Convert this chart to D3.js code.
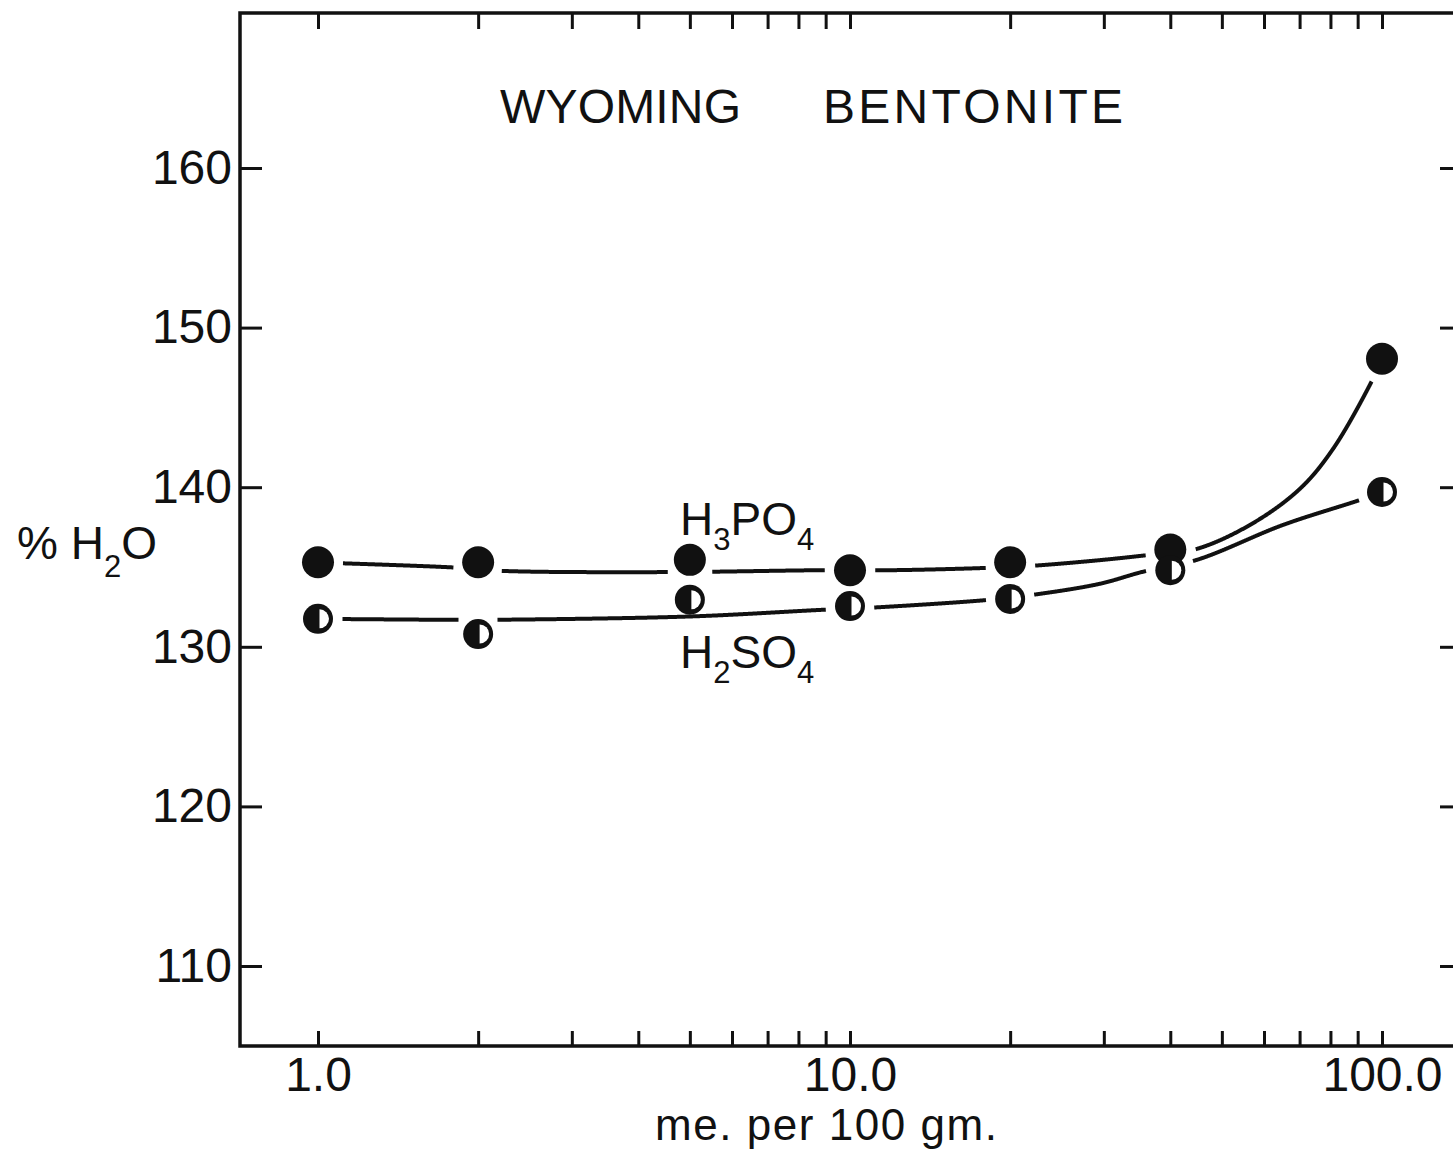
<!DOCTYPE html>
<html><head><meta charset="utf-8">
<script src="https://cdn.jsdelivr.net/npm/d3@7"></script>
<style>
body{margin:0;background:#fff}
svg{display:block;background:#fff}
text{font-family:"Liberation Sans",Arial,sans-serif;fill:#111}
</style>
</head><body>
<svg id="c" width="1453" height="1149"></svg>
<script>
// ---- data ----
const titleWords = ["WYOMING", "BENTONITE"];
const xTickValues = [1,2,3,4,5,6,7,8,9,10,20,30,40,50,60,70,80,90,100];
const xTickLabels = {1:"1.0", 10:"10.0", 100:"100.0"};
const yTickValues = [110,120,130,140,150,160];
const conc = [1,2,5,10,20,40,100];
const h3po4 = [135.3,135.3,135.45,134.8,135.3,136.1,148.05];
const h2so4 = [131.75,130.8,132.95,132.55,133.0,134.8,139.7];
// hand-drawn smoothing curves
const h3po4CurveX = [1.0,1.8,2.2,4.5,8.9,12,18.3,22.1,29.5,36.6,44.5,56.5,70.1,80.9,96.2,100];
const h3po4CurveY = [135.28,134.97,134.76,134.68,134.8,134.8,134.95,135.08,135.43,135.76,136.1,137.64,139.9,142.4,146.8,148.05];
const h2so4CurveX = [1.0,1.8,2.1,5.0,8.9,10.8,18.2,22.1,29.5,35.5,44.9,65.2,90.9,100];
const h2so4CurveY = [131.75,131.69,131.69,131.9,132.32,132.44,132.94,133.26,133.95,134.7,135.45,137.64,139.2,139.7];
const seriesNames = ["H3PO4","H2SO4"];

// ---- layout ----
const svg = d3.select("#c");
const ink = "#111";
const L = 240, R = 1462, T = 13, B = 1046;
const x = d3.scaleLog().domain([1,100]).range([318,1382]);
const y = d3.scaleLinear().domain([110,160]).range([966,168]);

// frame
svg.append("path")
  .attr("d", `M${R+10},${T} H${L} V${B} H${R+10}`)
  .attr("fill","none").attr("stroke",ink).attr("stroke-width",3.5);

function styleAxis(g, fs){
  g.select(".domain").remove();
  g.selectAll(".tick line").attr("stroke",ink).attr("stroke-width",3);
  g.selectAll(".tick text").attr("font-size",fs).attr("fill",ink);
}
// bottom axis
const gb = svg.append("g").attr("transform",`translate(0,${B})`)
  .call(d3.axisBottom(x).tickValues(xTickValues).tickSizeInner(-15).tickSizeOuter(0)
        .tickPadding(11).tickFormat(d => xTickLabels[d] || ""));
styleAxis(gb, 48);
// top axis
const gt = svg.append("g").attr("transform",`translate(0,${T})`)
  .call(d3.axisTop(x).tickValues(xTickValues).tickSizeInner(-16).tickSizeOuter(0).tickFormat(() => ""));
styleAxis(gt, 10);
// left axis
const gl = svg.append("g").attr("transform",`translate(${L},0)`)
  .call(d3.axisLeft(y).tickValues(yTickValues).tickSizeInner(-22).tickSizeOuter(0).tickPadding(8).tickFormat(d3.format("d")));
styleAxis(gl, 48);
// right axis
const gr = svg.append("g").attr("transform",`translate(${R},0)`)
  .call(d3.axisRight(y).tickValues(yTickValues).tickSizeInner(-22).tickSizeOuter(0).tickFormat(() => ""));
styleAxis(gr, 10);

// title
svg.append("text").attr("x",500).attr("y",123).attr("font-size",48)
  .attr("textLength",241).text(titleWords[0]);
svg.append("text").attr("x",823).attr("y",123).attr("font-size",48)
  .attr("textLength",300).text(titleWords[1]);

// y label  % H2O
const yl = svg.append("text").attr("x",17).attr("y",559).attr("font-size",46);
yl.append("tspan").text("% H");
yl.append("tspan").attr("font-size",31).attr("dy",18).text("2");
yl.append("tspan").attr("dy",-18).text("O");

// x label
svg.append("text").attr("x",655).attr("y",1140).attr("font-size",44)
  .attr("textLength",342).text("me. per 100 gm.");

// series labels
function chemLabel(px, py, parts){
  const t = svg.append("text").attr("x",px).attr("y",py).attr("font-size",46);
  parts.forEach(p => {
    if (p.sub) t.append("tspan").attr("font-size",31).attr("dy",15).text(p.s);
    else t.append("tspan").attr("dy",p.back?-15:0).text(p.s);
  });
}
chemLabel(680,535,[{s:"H"},{s:"3",sub:true},{s:"PO",back:true},{s:"4",sub:true}]);
chemLabel(680,668,[{s:"H"},{s:"2",sub:true},{s:"SO",back:true},{s:"4",sub:true}]);

// ---- curves with gaps at markers ----
const line = d3.line().x(d => x(d[0])).y(d => y(d[1])).curve(d3.curveCatmullRom.alpha(0.5));
const series = [
  {name:seriesNames[0], vals:h3po4, cx:h3po4CurveX, cy:h3po4CurveY, r:16, type:"full"},
  {name:seriesNames[1], vals:h2so4, cx:h2so4CurveX, cy:h2so4CurveY, r:15, type:"half"}
];
const gLines = svg.append("g");
const gMarks = svg.append("g");
series.forEach((s,i) => {
  const gapR = s.r + 9;
  const pts = s.cx.map((v,j) => [v, s.cy[j]]);
  // hidden reference path to sample the smooth curve
  const ref = gLines.append("path").datum(pts).attr("d", line).attr("fill","none").attr("stroke","none");
  const node = ref.node();
  const len = node.getTotalLength();
  const samples = d3.range(0, len, 0.5).map(l => node.getPointAtLength(l));
  samples.push(node.getPointAtLength(len));
  ref.remove();
  const marks = s.vals.map((v,j) => ({px:x(conc[j]), py:y(v)}));
  const gaps = marks.filter(m => d3.min(samples, p => Math.hypot(p.x-m.px, p.y-m.py)) < s.r);
  // split the curve into visible pieces outside the gap circles
  const pieces = [];
  let cur = [];
  samples.forEach(p => {
    const hidden = gaps.some(m => Math.hypot(p.x-m.px, p.y-m.py) < gapR);
    if (hidden) { if (cur.length > 1) pieces.push(cur); cur = []; }
    else cur.push([p.x, p.y]);
  });
  if (cur.length > 1) pieces.push(cur);
  gLines.selectAll(null).data(pieces).join("path")
    .attr("d", d3.line())
    .attr("fill","none").attr("stroke",ink).attr("stroke-width",4).attr("stroke-linecap","butt");

  marks.forEach(m => {
    gMarks.append("circle").attr("cx",m.px).attr("cy",m.py).attr("r",s.r).attr("fill",ink);
    if (s.type === "half") {
      const ri = s.r - 5.5, ox = m.px + 1.5;
      gMarks.append("path")
        .attr("d", `M${ox},${m.py-ri} A${ri},${ri} 0 0 1 ${ox},${m.py+ri} Z`)
        .attr("fill","#fff");
    }
  });
});
</script>
</body></html>
